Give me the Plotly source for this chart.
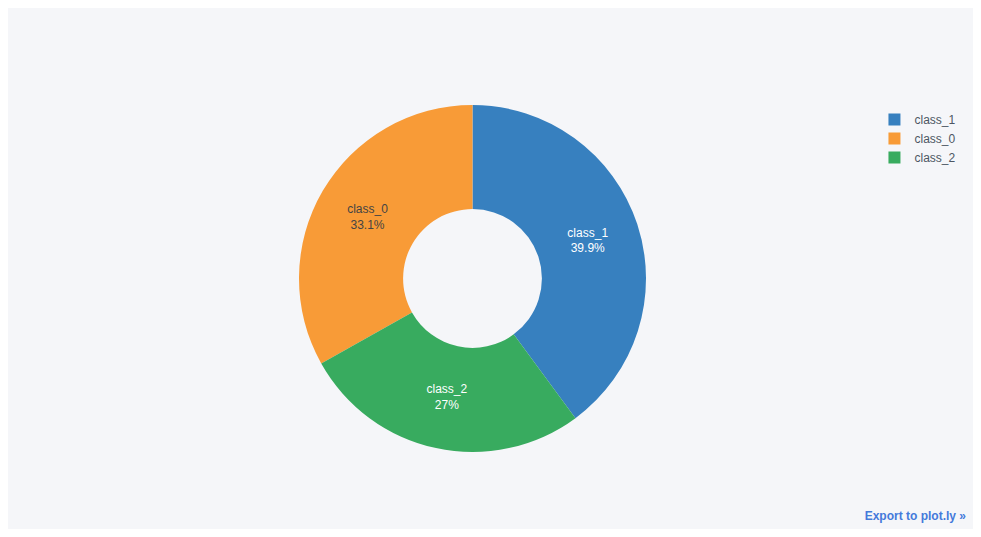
import plotly.graph_objects as go

labels = ["class_0", "class_1", "class_2"]
values = [59, 71, 48]
colors = ["#F89B37", "#3780BF", "#38AB5F"]
text_colors = ["#444444", "#FFFFFF", "#FFFFFF"]

fig = go.Figure(
    go.Pie(
        labels=labels,
        values=values,
        hole=0.4,
        marker=dict(colors=colors),
        textinfo="label+percent",
        textposition="inside",
        insidetextfont=dict(color=text_colors),
    )
)
fig.update_layout(
    paper_bgcolor="#F5F6F9",
    plot_bgcolor="#F5F6F9",
    font=dict(family="Liberation Sans, Arial, sans-serif", color="#4D5663", size=12),
    legend=dict(font=dict(color="#4D5663")),
    margin=dict(t=97, b=77, l=78, r=82),
)
fig.write_html(
    "out.html",
    config={"showLink": True, "linkText": "Export to plot.ly", "plotlyServerURL": "https://plot.ly"},
    post_script="document.querySelectorAll('.js-plot-link-container text, .js-plot-link-container tspan').forEach(function(e){e.style.fontFamily='Liberation Sans, Arial, sans-serif';});",
)
